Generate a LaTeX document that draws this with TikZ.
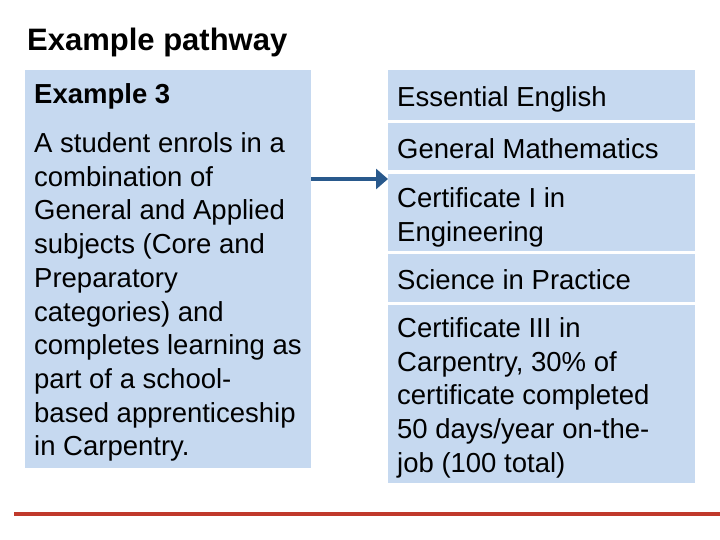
\documentclass[tikz,border=0pt]{standalone}
\usepackage{fontspec}
\setmainfont{Liberation Sans}
\usetikzlibrary{arrows.meta}
\definecolor{boxblue}{RGB}{198,217,240}
\definecolor{arrowblue}{RGB}{41,89,140}
\definecolor{rulered}{RGB}{192,57,43}
\begin{document}
\begin{tikzpicture}[x=1pt,y=-1pt,
  panel/.style={rectangle, fill=boxblue, draw=none, inner sep=0pt, anchor=north west},
  txt/.style={inner sep=0pt, anchor=west, align=left, font=\fontsize{27.5}{33.7}\selectfont},
  link/.style={draw=arrowblue, line width=4.5pt, -{Triangle[length=12pt,width=20pt]}}]
\useasboundingbox (0,0) rectangle (720,540);
\node[inner sep=0pt, anchor=west, font=\bfseries\fontsize{31}{36}\selectfont] (title) at (27,42) {Example pathway};
% left panel
\node[panel, minimum width=286pt, minimum height=398pt] (lbox) at (25,70) {};
\node[txt] (ltext) at ([xshift=9pt,yshift=-3.25pt]lbox.west) {\textbf{Example 3}\\[15.5pt]A student enrols in a\\combination of\\General and Applied\\subjects (Core and\\Preparatory\\categories) and\\completes learning as\\part of a school-\\based apprenticeship\\in Carpentry.};
% right panels
\node[panel, minimum width=307pt, minimum height=50pt] (b1) at (388,70) {};
\node[panel, minimum width=307pt, minimum height=47pt] (b2) at (388,123) {};
\node[panel, minimum width=307pt, minimum height=77pt] (b3) at (388,174) {};
\node[panel, minimum width=307pt, minimum height=48pt] (b4) at (388,254) {};
\node[panel, minimum width=307pt, minimum height=178pt] (b5) at (388,305) {};
\node[txt] (t1) at ([xshift=9pt,yshift=-4.5pt]b1.west) {Essential English};
\node[txt] (t2) at ([xshift=9pt,yshift=-1.5pt]b2.west) {General Mathematics};
\node[txt] (t3) at ([xshift=9pt,yshift=-5pt]b3.west) {Certificate I in\\Engineering};
\node[txt] (t4) at ([xshift=9pt,yshift=-1pt]b4.west) {Science in Practice};
\node[txt] (t5) at ([xshift=9pt,yshift=-3.5pt]b5.west) {Certificate III in\\Carpentry, 30\% of\\certificate completed\\50 days/year on-the-\\job (100 total)};
% arrow
\coordinate (ay) at (0,179);
\draw[link] (lbox.east |- ay) -- (b3.west |- ay);
% bottom rule
\coordinate (rl) at (14,514);
\coordinate (rr) at (720,514);
\draw[rulered, line width=4pt] (rl) -- (rr);
\end{tikzpicture}
\end{document}
